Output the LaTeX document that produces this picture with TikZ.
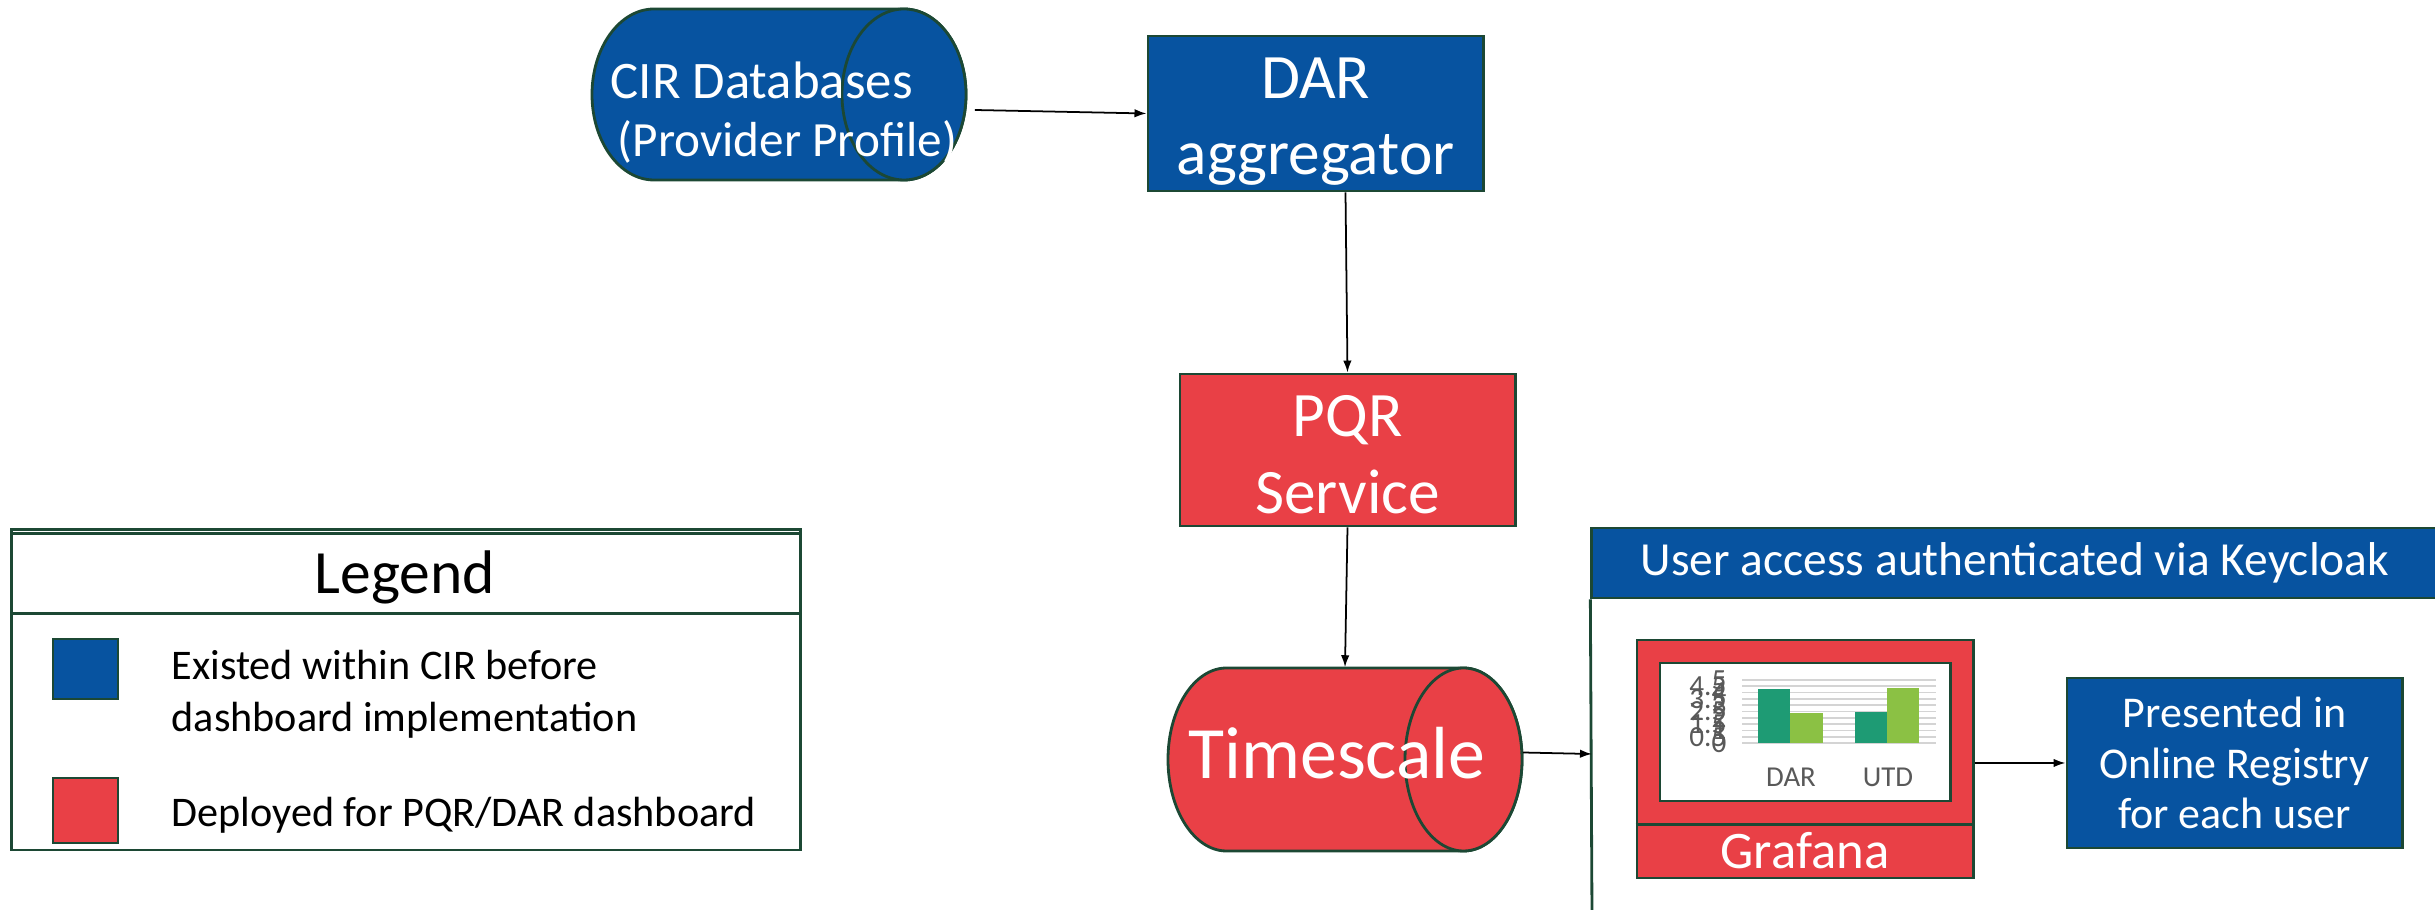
\documentclass[tikz,border=0pt]{standalone}
\usepackage{fontspec}
\setmainfont{Carlito}
\usetikzlibrary{arrows.meta,calc}
\definecolor{cirblue}{RGB}{7,83,160}
\definecolor{pqrred}{RGB}{233,64,70}
\definecolor{edgec}{RGB}{28,72,52}
\definecolor{darkbar}{RGB}{30,155,116}
\definecolor{lightbar}{RGB}{139,193,68}
\definecolor{gridgray}{RGB}{212,212,212}
\definecolor{labgray}{RGB}{89,89,89}
\newcommand\fsz[2]{\fontsize{#1}{#2}\selectfont}
\begin{document}
\begin{tikzpicture}[x=0.01cm,y=0.01cm,
  bluebox/.style={draw=edgec, line width=0.8pt, fill=cirblue, text=white, inner sep=0pt, align=center},
  redbox/.style={draw=edgec, line width=0.8pt, fill=pqrred, text=white, inner sep=0pt, align=center},
  ghost/.style={inner sep=0pt},
  cylblue/.style={draw=edgec, line width=0.8pt, fill=cirblue},
  cylred/.style={draw=edgec, line width=0.8pt, fill=pqrred},
  arr/.style={-{Latex[length=1.2mm,width=0.85mm]}, line width=0.5pt, black},
  legtext/.style={anchor=west, align=left, font=\fsz{12}{14.8}, text=black, inner sep=0pt},
  axlab/.style={anchor=east, inner sep=0pt, text=labgray, font=\fsz{8.3}{9}},
  catlab/.style={inner sep=0pt, text=labgray, font=\fsz{8.2}{9}}
]
\useasboundingbox (0,0) rectangle (2435,-910);
\clip (0,0) rectangle (2435,-910);

% ---- CIR Databases cylinder
\path[cylblue] (654,-9) arc[start angle=90,end angle=270,x radius=62,y radius=85.5]
  -- (904,-180) arc[start angle=-90,end angle=90,x radius=62,y radius=85.5] -- cycle;
\path[cylblue] (904,-94.5) ellipse[x radius=62,y radius=85.5];
\node[ghost, minimum width=3.74cm, minimum height=1.71cm] (cir) at (779,-94.5) {};
\node[ghost, anchor=base west, text=white, font=\fsz{15}{18}] (cirtxt1) at (610,-99) {CIR Databases};
\node[ghost, anchor=base west, text=white, font=\fsz{14}{17}] (cirtxt2) at (617,-157) {(Provider Profile)};

% ---- DAR aggregator
\node[bluebox, minimum width=3.35cm, minimum height=1.55cm, font=\fsz{18}{21.5}] (dar) at (1315.5,-113.5) {\rule{0pt}{16.2pt}DAR\\aggregator};

% ---- PQR Service
\node[redbox, minimum width=3.35cm, minimum height=1.52cm, font=\fsz{18}{21.8}] (pqr) at (1347.5,-450) {\rule{0pt}{14.2pt}PQR\\Service};

% ---- Timescale cylinder
\path[cylred] (1226.5,-668) arc[start angle=90,end angle=270,x radius=58.5,y radius=91.5]
  -- (1463.5,-851) arc[start angle=-90,end angle=90,x radius=58.5,y radius=91.5] -- cycle;
\path[cylred] (1463.5,-759.5) ellipse[x radius=58.5,y radius=91.5];
\node[ghost, minimum width=3.54cm, minimum height=1.83cm] (ts) at (1345,-759.5) {};
\node[ghost, text=white, font=\fsz{21}{24}] (tstxt) at (1337,-753) {Timescale};

% ---- Keycloak frame
\node[bluebox, minimum width=8.46cm, minimum height=0.70cm, font=\fsz{13.5}{16}] (kc) at (2015,-563) {User access authenticated via Keycloak};
\draw[edgec, line width=0.8pt] (kc.south west) -- (1592,-915);
\coordinate (kin) at (1592,-754);

% ---- Grafana
\node[redbox, minimum width=3.36cm, minimum height=2.38cm] (graf) at (1805,-759) {};
\draw[edgec, line width=0.8pt] ($(graf.south west)+(0,55)$) -- ($(graf.south east)+(0,55)$);
\node[ghost, text=white, font=\fsz{15}{18}] (graftxt) at (1805,-851) {Grafana};
\node[draw=edgec, line width=0.8pt, fill=white, minimum width=2.9cm, minimum height=1.38cm, inner sep=0pt] (chart) at (1805,-732) {};
\foreach \i in {0,...,10} {
  \draw[gridgray, line width=0.5pt] (1742,-743+\i*6.3) -- (1936,-743+\i*6.3);
}
\fill[darkbar] (1758,-743) rectangle (1790,-689);
\fill[lightbar] (1790,-743) rectangle (1823,-713);
\fill[darkbar] (1855,-743) rectangle (1887,-712);
\fill[lightbar] (1887,-743) rectangle (1919,-688);
\foreach \i/\v in {0/0,1/0.5,2/1,3/1.5,4/2,5/2.5,6/3,7/3.5,8/4,9/4.5,10/5} {
  \node[axlab] (ax\i) at (1727,-743+\i*6.3) {\v};
}
\node[catlab] (catdar) at (1791,-777) {DAR};
\node[catlab] (catutd) at (1888,-777) {UTD};

% ---- Presented box
\node[bluebox, minimum width=3.35cm, minimum height=1.70cm, font=\fsz{12.5}{14.3}] (pres) at (2234.5,-763) {Presented in\\Online Registry\\for each user};

% ---- Legend
\node[draw=edgec, line width=0.8pt, minimum width=7.88cm, minimum height=3.2cm, inner sep=0pt] (leg) at (406,-690) {};
\draw[edgec, line width=0.8pt] ($(leg.north west)+(0,-5)$) -- ($(leg.north east)+(0,-5)$);
\draw[edgec, line width=0.8pt] ($(leg.north west)+(0,-85)$) -- ($(leg.north east)+(0,-85)$);
\node[ghost, text=black, font=\fsz{17.5}{20}] (legtitle) at (405,-577) {Legend};
\node[draw=edgec, line width=0.8pt, fill=cirblue, minimum width=0.65cm, minimum height=0.6cm, inner sep=0pt] (legblue) at (85.5,-669) {};
\node[draw=edgec, line width=0.8pt, fill=pqrred, minimum width=0.65cm, minimum height=0.65cm, inner sep=0pt] (legred) at (85.5,-810.5) {};
\node[legtext] (legbluetxt) at (171,-694) {Existed within CIR before\\dashboard implementation};
\node[legtext] (legredtxt) at (171,-815) {Deployed for PQR/DAR dashboard};

% ---- Connectors
\draw[arr] ($(cir.east)+(8,-15.5)$) -- (dar.west);
\draw[arr] ($(dar.south)+(30,0)$) -- (pqr.north);
\draw[arr] (pqr.south) -- (ts.north);
\draw[arr] ($(ts.east)+(0,7)$) -- (kin);
\draw[arr] (graf.east |- pres.west) -- (pres.west);
\end{tikzpicture}
\end{document}
